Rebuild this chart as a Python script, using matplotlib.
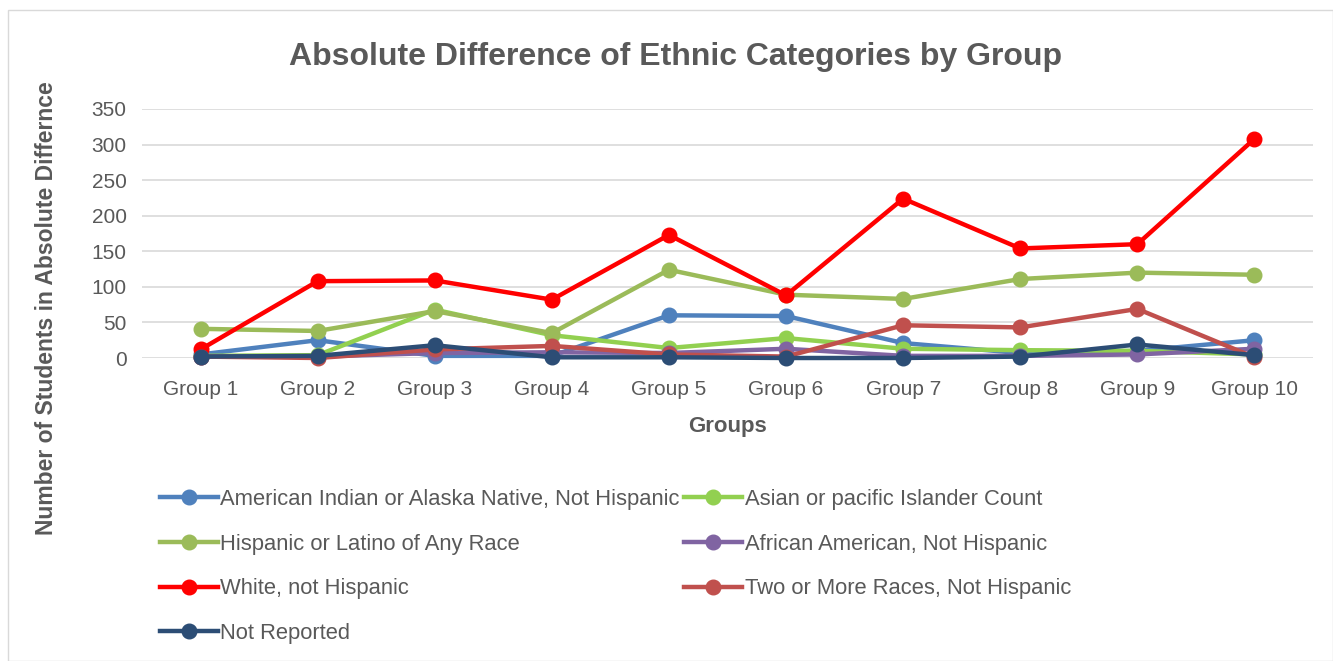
import matplotlib
matplotlib.use("Agg")
import matplotlib.pyplot as plt
from matplotlib.patches import Rectangle

plt.rcParams['font.family'] = ['Liberation Sans', 'DejaVu Sans']

groups = ["Group 1", "Group 2", "Group 3", "Group 4", "Group 5",
          "Group 6", "Group 7", "Group 8", "Group 9", "Group 10"]

american_indian = [5, 25, 3, 3, 60, 59, 21, 7, 10, 25]
asian = [3, 4, 68, 32, 14, 28, 13, 11, 10, 5]
hispanic = [41, 38, 66, 35, 124, 89, 83, 111, 120, 117]
african_american = [2, 2, 7, 8, 7, 13, 3, 3, 5, 13]
white = [12, 108, 109, 82, 173, 88, 224, 154, 160, 308]
two_or_more = [2, 0, 12, 17, 5, 2, 46, 43, 69, 1]
not_reported = [2, 3, 18, 1, 1, 0, 0, 2, 19, 4]

series = [
    ("American Indian or Alaska Native, Not Hispanic", american_indian, "#4F81BD"),
    ("Asian or pacific Islander Count", asian, "#92D050"),
    ("Hispanic or Latino of Any Race", hispanic, "#9BBB59"),
    ("African American, Not Hispanic", african_american, "#8064A2"),
    ("White, not Hispanic", white, "#FF0000"),
    ("Two or More Races, Not Hispanic", two_or_more, "#C0504D"),
    ("Not Reported", not_reported, "#2C4D75"),
]

yticks = [0, 50, 100, 150, 200, 250, 300, 350]

fig = plt.figure(figsize=(13.33, 6.61), dpi=100)
ax = fig.add_axes([142/1333, 1 - 358/661, (1313 - 142)/1333, (358 - 109)/661])

x = list(range(len(groups)))
handles = {}
for name, vals, col in series:
    h, = ax.plot(x, vals, color=col, lw=3.2, marker='o', markersize=10.5,
                 solid_joinstyle='round', label=name, clip_on=False)
    handles[name] = h

ax.set_xlim(-0.5, len(groups) - 0.5)
ax.set_ylim(0, 350)
ax.set_yticks(yticks)
ax.set_xticks(x)
ax.set_xticklabels(groups)
ax.tick_params(axis='both', length=0, labelsize=15, colors='#595959')
ax.tick_params(axis='y', pad=11)
ax.tick_params(axis='x', pad=16)
ax.grid(axis='y', color='#D9D9D9', lw=1.2)
ax.set_axisbelow(True)
for s in ax.spines.values():
    s.set_visible(False)

ax.set_xlabel("Groups", fontsize=16, fontweight='bold', color='#595959', labelpad=12)
fig.text(47/1333, 1 - 308/661, "Number of Students in Absolute Differnce", rotation=90,
         ha='center', va='center', fontsize=16.5, fontweight='bold', color='#595959')

fig.text(676/1333, 1 - 57/661, "Absolute Difference of Ethnic Categories by Group",
         ha='center', va='center', fontsize=23, fontweight='bold', color='#595959')

order = [0, 2, 4, 6, 1, 3, 5]
hl = [handles[series[i][0]] for i in order]
ll = [series[i][0] for i in order]
leg = fig.legend(hl, ll, loc='upper left', bbox_to_anchor=(160/1333, 1 - 489/661),
                 ncol=2, frameon=False, fontsize=15.8, handlelength=2.65,
                 handletextpad=0.1, columnspacing=0.2, labelspacing=1.08,
                 borderaxespad=0, borderpad=0)
for t in leg.get_texts():
    t.set_color('#595959')

fig.patches.append(Rectangle((8/1333, 0), 1 - 8/1333 - 0.5/1333, 1 - 10/661,
                             transform=fig.transFigure, fill=False,
                             edgecolor='#D9D9D9', lw=1))

fig.savefig("out.png", dpi=100)
